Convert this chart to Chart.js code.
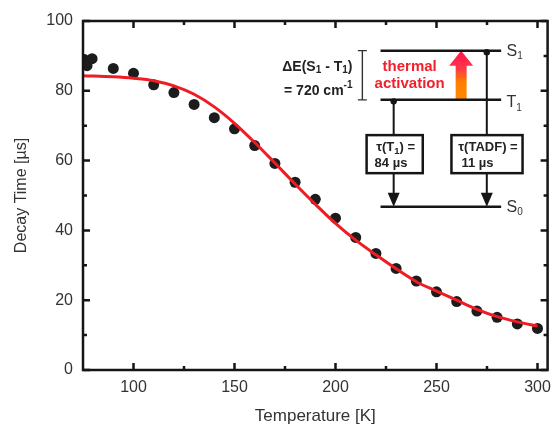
<!DOCTYPE html>
<html>
<head>
<meta charset="utf-8">
<script src="https://cdn.jsdelivr.net/npm/chart.js@4/dist/chart.umd.min.js"></script>
<style>
  html, body { margin: 0; padding: 0; background: #fff; }
  #wrap { width: 559px; height: 425px; }
</style>
</head>
<body>
<div id="wrap"><canvas id="decayChart" width="559" height="425"></canvas></div>
<script>
// Measured decay times (dots)
const tempK = [75.5, 77, 79.5, 90, 100, 110, 120, 130, 140, 150, 160, 170, 180, 190, 200, 210, 220, 230, 240, 250, 260, 270, 280, 290, 300];
const decayTime = [89.0, 87.2, 89.2, 86.4, 85.0, 81.7, 79.5, 76.1, 72.3, 69.1, 64.3, 59.2, 53.8, 48.9, 43.5, 38.0, 33.4, 29.1, 25.5, 22.4, 19.6, 16.9, 15.1, 13.2, 11.9];

// Fit curve
const fitTempK = [75, 90, 100, 110, 120, 130, 140, 150, 160, 170, 180, 190, 200, 210, 220, 230, 240, 250, 260, 270, 280, 290, 300];
const fitDecayTime = [84.3, 84.0, 83.6, 82.9, 81.4, 79.0, 75.4, 70.7, 65.2, 59.3, 53.3, 47.5, 42.0, 37.2, 33.0, 29.0, 25.3, 22.6, 20.0, 17.4, 15.3, 13.8, 12.6];

// Axis ticks
const xTicks = [100, 150, 200, 250, 300];
const xMinorTicks = [125, 175, 225, 275];
const yTicks = [0, 20, 40, 60, 80, 100];
const yMinorTicks = [10, 30, 50, 70, 90];

const FONT = '"Liberation Sans", Arial, Helvetica, sans-serif';
const INK = '#151515';
const TEXT = '#333333';

// Level diagram, placed in data units (K, µs)
const diagram = {
  levelFrom: 222.3, levelTo: 282.0,
  s1: 91.5, t1: 77.4, s0: 46.8,
  t1Decay: 228.8, tadfDecay: 274.9,
  box1: [215.4, 243.2], box2: [257.4, 292.6], boxTop: 67.3, boxBottom: 56.4,
  arrowX: 262.2,
  bracketX: 213.3,
  thermalX: 236.7, thermalY: [86.9, 82.1],
  deltaX: 208.4, deltaY: [86.9, 80.0],
  labelX: 284.7
};

function drawRich(ctx, parts, x, y, align, weight, color) {
  let total = 0;
  parts.forEach(p => {
    ctx.font = `${weight} ${p.size}px ${FONT}`;
    p.w = ctx.measureText(p.text).width;
    total += p.w;
  });
  let cx = align === 'right' ? x - total : align === 'center' ? x - total / 2 : x;
  ctx.textAlign = 'left';
  ctx.textBaseline = 'middle';
  ctx.fillStyle = color;
  parts.forEach(p => {
    ctx.font = `${weight} ${p.size}px ${FONT}`;
    ctx.fillText(p.text, cx, y + (p.dy || 0));
    cx += p.w;
  });
}

const framePlugin = {
  id: 'frameTicks',
  afterDraw(chart) {
    const { ctx, chartArea: a, scales: { x, y } } = chart;
    ctx.save();
    ctx.strokeStyle = INK;
    ctx.lineWidth = 2.5;
    ctx.strokeRect(a.left, a.top, a.right - a.left, a.bottom - a.top);
    const tick = (vals, len) => {
      ctx.beginPath();
      vals.forEach(v => {
        const px = x.getPixelForValue(v);
        ctx.moveTo(px, a.bottom); ctx.lineTo(px, a.bottom - len);
        ctx.moveTo(px, a.top); ctx.lineTo(px, a.top + len);
      });
      ctx.stroke();
    };
    const ytick = (vals, len) => {
      ctx.beginPath();
      vals.forEach(v => {
        const py = y.getPixelForValue(v);
        ctx.moveTo(a.left, py); ctx.lineTo(a.left + len, py);
        ctx.moveTo(a.right, py); ctx.lineTo(a.right - len, py);
      });
      ctx.stroke();
    };
    tick(xTicks, 7);
    tick(xMinorTicks, 4);
    ytick(yTicks, 7);
    ytick(yMinorTicks, 4);
    ctx.restore();
  }
};

const diagramPlugin = {
  id: 'tadfDiagram',
  afterDatasetsDraw(chart) {
    const { ctx, scales: { x, y } } = chart;
    const d = diagram;
    const px = v => x.getPixelForValue(v);
    const py = v => y.getPixelForValue(v);
    const yS1 = py(d.s1), yT1 = py(d.t1), yS0 = py(d.s0);
    ctx.save();

    // thermal activation arrow
    const ax = px(d.arrowX);
    const grad = ctx.createLinearGradient(0, yT1, 0, yS1);
    grad.addColorStop(0, '#ff8a00');
    grad.addColorStop(0.35, '#ff8000');
    grad.addColorStop(0.65, '#ff3548');
    grad.addColorStop(1, '#ff1450');
    ctx.fillStyle = grad;
    ctx.fillRect(ax - 5.5, yS1 + 14, 11, yT1 - yS1 - 14);
    ctx.beginPath();
    ctx.moveTo(ax, yS1);
    ctx.lineTo(ax + 12, yS1 + 15);
    ctx.lineTo(ax - 12, yS1 + 15);
    ctx.closePath();
    ctx.fill();

    // decay paths
    ctx.strokeStyle = INK;
    ctx.fillStyle = INK;
    ctx.lineWidth = 2;
    [[d.t1Decay, yT1], [d.tadfDecay, yS1]].forEach(([v, top]) => {
      const lx = px(v);
      ctx.beginPath();
      ctx.moveTo(lx, top);
      ctx.lineTo(lx, yS0 - 12);
      ctx.stroke();
      ctx.beginPath();
      ctx.arc(lx, top + 1.5, 3.2, 0, Math.PI * 2);
      ctx.fill();
      ctx.beginPath();
      ctx.moveTo(lx, yS0);
      ctx.lineTo(lx + 6, yS0 - 14);
      ctx.lineTo(lx - 6, yS0 - 14);
      ctx.closePath();
      ctx.fill();
    });

    // energy levels
    ctx.lineWidth = 2.5;
    ctx.beginPath();
    [yS1, yT1, yS0].forEach(ly => {
      ctx.moveTo(px(d.levelFrom), ly);
      ctx.lineTo(px(d.levelTo), ly);
    });
    ctx.stroke();

    // lifetime boxes
    const bt = py(d.boxTop), bb = py(d.boxBottom);
    [d.box1, d.box2].forEach(([l, r]) => {
      ctx.fillStyle = '#fff';
      ctx.fillRect(px(l), bt, px(r) - px(l), bb - bt);
      ctx.strokeRect(px(l), bt, px(r) - px(l), bb - bt);
    });
    const b1l = px(d.box1[0]), b1c = (px(d.box1[0]) + px(d.box1[1])) / 2;
    const b2l = px(d.box2[0]), b2c = (px(d.box2[0]) + px(d.box2[1])) / 2;
    drawRich(ctx, [{ text: 'τ(T', size: 13 }, { text: '1', size: 9.5, dy: 4 }, { text: ') =', size: 13 }], b1c + 1, bt + 12, 'center', 'bold', '#222');
    drawRich(ctx, [{ text: '84 µs', size: 13 }], b1l + 8, bt + 28, 'left', 'bold', '#222');
    drawRich(ctx, [{ text: 'τ(TADF) =', size: 13 }], b2c + 1, bt + 12, 'center', 'bold', '#222');
    drawRich(ctx, [{ text: '11 µs', size: 13 }], b2l + 10, bt + 28, 'left', 'bold', '#222');

    // level labels
    const lx = px(d.labelX);
    drawRich(ctx, [{ text: 'S', size: 16 }, { text: '1', size: 10, dy: 5 }], lx, yS1 + 1, 'left', 'normal', TEXT);
    drawRich(ctx, [{ text: 'T', size: 16 }, { text: '1', size: 10, dy: 5 }], lx, yT1 + 3, 'left', 'normal', TEXT);
    drawRich(ctx, [{ text: 'S', size: 16 }, { text: '0', size: 10, dy: 5 }], lx, yS0 + 1, 'left', 'normal', TEXT);

    // energy gap bracket
    const bx = px(d.bracketX);
    ctx.strokeStyle = '#333';
    ctx.lineWidth = 1.4;
    ctx.beginPath();
    ctx.moveTo(bx, yS1); ctx.lineTo(bx, yT1);
    ctx.moveTo(bx - 4.5, yS1); ctx.lineTo(bx + 4.5, yS1);
    ctx.moveTo(bx - 4.5, yT1); ctx.lineTo(bx + 4.5, yT1);
    ctx.stroke();

    drawRich(ctx, [{ text: 'ΔE(S', size: 14 }, { text: '1', size: 10, dy: 4 }, { text: ' - T', size: 14 }, { text: '1', size: 10, dy: 4 }, { text: ')', size: 14 }], px(d.deltaX), py(d.deltaY[0]), 'right', 'bold', '#222');
    drawRich(ctx, [{ text: '= 720 cm', size: 14 }, { text: '-1', size: 10, dy: -6 }], px(d.deltaX), py(d.deltaY[1]), 'right', 'bold', '#222');

    // thermal activation text
    ctx.fillStyle = '#f0202c';
    ctx.font = `bold 15px ${FONT}`;
    ctx.textAlign = 'center';
    ctx.textBaseline = 'middle';
    ctx.fillText('thermal', px(d.thermalX), py(d.thermalY[0]));
    ctx.fillText('activation', px(d.thermalX), py(d.thermalY[1]));

    ctx.restore();
  }
};

const ctx = document.getElementById('decayChart').getContext('2d');
new Chart(ctx, {
  type: 'scatter',
  data: {
    datasets: [
      {
        type: 'line',
        label: 'Fit',
        data: fitTempK.map((t, i) => ({ x: t, y: fitDecayTime[i] })),
        borderColor: '#f01c24',
        borderWidth: 3,
        pointRadius: 0,
        fill: false,
        cubicInterpolationMode: 'monotone'
      },
      {
        label: 'Decay time',
        data: tempK.map((t, i) => ({ x: t, y: decayTime[i] })),
        backgroundColor: '#1c1c1c',
        borderColor: '#1c1c1c',
        borderWidth: 0,
        pointRadius: 5.5,
        clip: 0
      }
    ]
  },
  options: {
    responsive: false,
    animation: false,
    devicePixelRatio: 1,
    layout: { padding: { top: 21, right: 7, left: 0, bottom: 0 } },
    plugins: {
      legend: { display: false },
      tooltip: { enabled: false }
    },
    scales: {
      x: {
        type: 'linear',
        min: 75,
        max: 305,
        afterBuildTicks: s => { s.ticks = xTicks.map(v => ({ value: v })); },
        afterFit: s => { s.height = 55; },
        grid: { display: false, drawTicks: false },
        border: { display: false },
        ticks: { padding: 8, color: TEXT, font: { family: FONT, size: 16 }, maxRotation: 0 },
        title: {
          display: true,
          text: 'Temperature [K]',
          color: TEXT,
          font: { family: FONT, size: 17, lineHeight: 1 },
          padding: { top: 0, bottom: 0 }
        }
      },
      y: {
        min: 0,
        max: 100,
        afterBuildTicks: s => { s.ticks = yTicks.map(v => ({ value: v })); },
        afterFit: s => { s.width = 83; },
        grid: { display: false, drawTicks: false },
        border: { display: false },
        ticks: { padding: 10, color: TEXT, font: { family: FONT, size: 16 } },
        title: {
          display: true,
          text: 'Decay Time [µs]',
          color: TEXT,
          font: { family: FONT, size: 16 },
          padding: { top: 12, bottom: 0 }
        }
      }
    }
  },
  plugins: [diagramPlugin, framePlugin]
});
</script>
</body>
</html>
